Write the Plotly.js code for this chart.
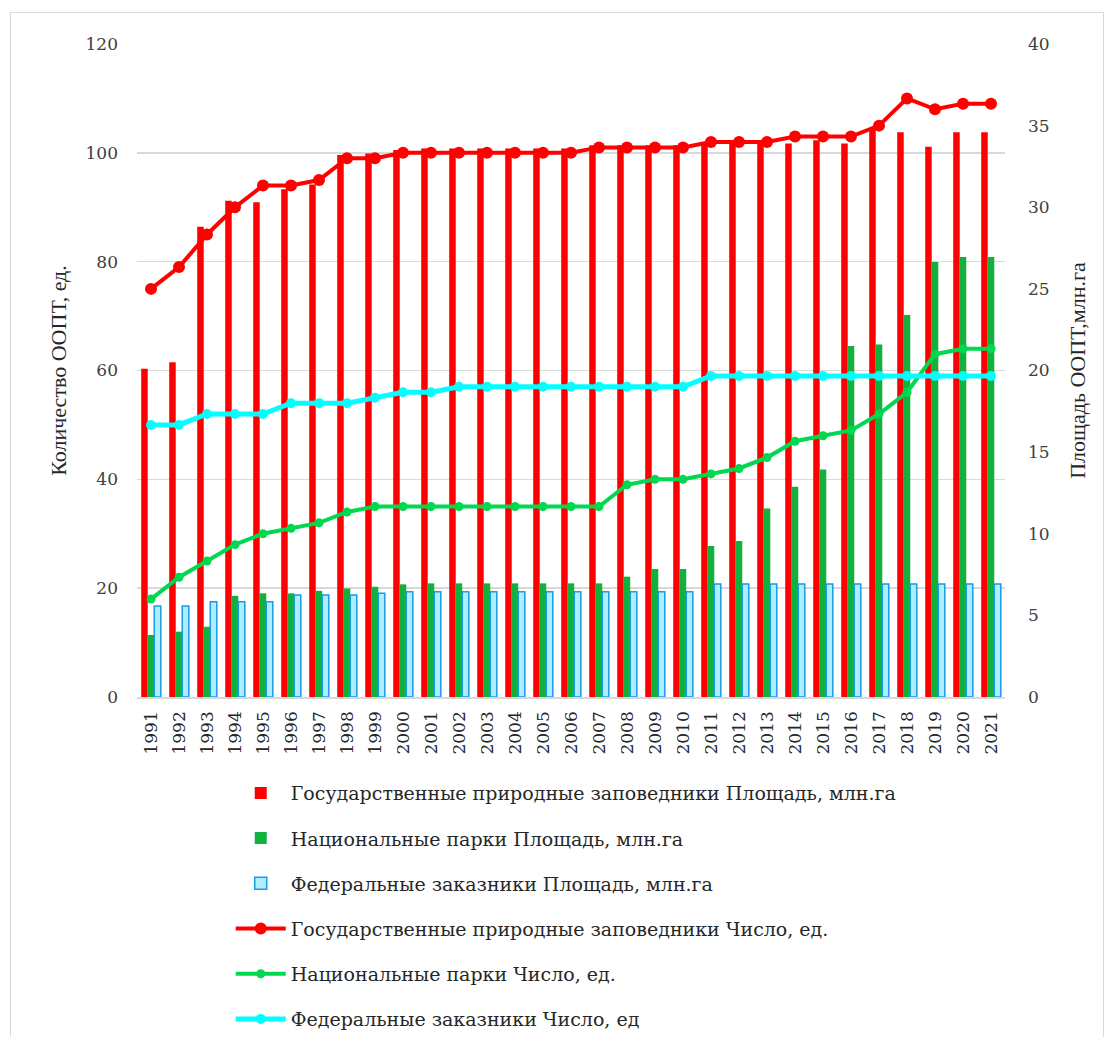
<!DOCTYPE html>
<html>
<head>
<meta charset="utf-8">
<script src="https://cdn.plot.ly/plotly-3.0.1.min.js"></script>
<style>
html,body{margin:0;padding:0;background:#fff;}
#wrap{position:relative;width:1111px;height:1037px;}
#chart{position:absolute;left:0;top:0;width:1111px;height:1037px;}
#frame{position:absolute;left:10px;top:12px;width:1092px;height:1030px;border:1px solid #d9d9d9;pointer-events:none;}
</style>
</head>
<body>
<div id="wrap"><div id="chart"></div><div id="frame"></div></div>
<script>
const years = ["1991","1992","1993","1994","1995","1996","1997","1998","1999","2000",
  "2001","2002","2003","2004","2005","2006","2007","2008","2009","2010",
  "2011","2012","2013","2014","2015","2016","2017","2018","2019","2020","2021"];

// Площадь, млн.га (right axis)
const zapArea = [20.1,20.5,28.8,30.4,30.3,31.1,31.4,33.2,33.3,33.5,
  33.6,33.6,33.6,33.6,33.6,33.6,33.8,33.8,33.8,33.8,
  33.9,33.9,33.9,33.9,34.1,33.9,34.8,34.6,33.7,34.6,34.6];
const npArea = [3.8,4.0,4.3,6.2,6.35,6.35,6.5,6.65,6.75,6.9,
  6.96,6.96,6.96,6.96,6.96,6.96,6.96,7.37,7.84,7.84,
  9.25,9.55,11.55,12.88,13.94,21.5,21.6,23.4,26.65,26.96,26.96];
const fzArea = [5.57,5.57,5.84,5.84,5.84,6.25,6.25,6.25,6.35,6.45,
  6.45,6.45,6.45,6.45,6.45,6.45,6.45,6.45,6.45,6.45,
  6.92,6.92,6.92,6.92,6.92,6.92,6.92,6.92,6.92,6.92,6.92];

// Число, ед. (left axis)
const zapCount = [75,79,85,90,94,94,95,99,99,100,
  100,100,100,100,100,100,101,101,101,101,
  102,102,102,103,103,103,105,110,108,109,109];
const npCount = [18,22,25,28,30,31,32,34,35,35,
  35,35,35,35,35,35,35,39,40,40,
  41,42,44,47,48,49,52,56,63,64,64];
const fzCount = [50,50,52,52,52,54,54,54,55,56,
  56,57,57,57,57,57,57,57,57,57,
  59,59,59,59,59,59,59,59,59,59,59];

const names = [
  "Государственные природные заповедники Площадь, млн.га",
  "Национальные парки Площадь, млн.га",
  "Федеральные заказники Площадь, млн.га",
  "Государственные природные заповедники Число, ед.",
  "Национальные парки Число, ед.",
  "Федеральные заказники Число, ед"
];

const serif = "Liberation Serif";
const wide = "DejaVu Serif";

const traces = [
  {type:"bar", x:years, y:zapArea, name:names[0], yaxis:"y", legendgroup:"a",
   marker:{color:"#ff0000"}},
  {type:"bar", x:years, y:npArea, name:names[1], yaxis:"y", legendgroup:"b",
   marker:{color:"#12b03c"}},
  {type:"bar", x:years, y:fzArea, name:names[2], yaxis:"y", legendgroup:"c",
   marker:{color:"#aeeeff", line:{color:"#1a9be6", width:1.5}}},
  {type:"scatter", mode:"lines+markers", x:years, y:zapCount, name:names[3], yaxis:"y2", legendgroup:"d",
   line:{color:"#ff0000", width:4}, marker:{color:"#ff0000", size:12}},
  {type:"scatter", mode:"lines+markers", x:years, y:npCount, name:names[4], yaxis:"y2", legendgroup:"e",
   line:{color:"#00d850", width:4}, marker:{color:"#00d850", size:9}},
  {type:"scatter", mode:"lines+markers", x:years, y:fzCount, name:names[5], yaxis:"y2", legendgroup:"f",
   line:{color:"#00ffff", width:5}, marker:{color:"#00ffff", size:10}}
];

const layout = {
  width:1111, height:1037,
  margin:{l:137, r:106, t:44, b:340, autoexpand:false},
  paper_bgcolor:"#ffffff", plot_bgcolor:"rgba(0,0,0,0)",
  font:{family:serif, color:"#262626", size:16},
  barmode:"group", bargap:0.3, bargroupgap:0,
  showlegend:true,
  legend:{x:0.108, xanchor:"left", y:-0.118, yanchor:"top", orientation:"v",
    traceorder:"grouped", tracegroupgap:17.5, itemwidth:50,
    font:{family:wide, size:19, color:"#262626"}, bgcolor:"rgba(0,0,0,0)"},
  xaxis:{type:"category", range:[-0.5,30.5], autorange:false, tickangle:-90,
    tickfont:{family:wide, size:17, color:"#262626"}, ticklabelstandoff:6,
    showline:true, linecolor:"#d9d9d9", linewidth:1.5, showgrid:false, ticks:"", ticklen:0, zeroline:false,
    automargin:false},
  yaxis:{side:"right", range:[0,40], dtick:5, tick0:0, showgrid:false, zeroline:false,
    tickfont:{family:wide, size:17, color:"#404040"}, ticks:"", ticklabelstandoff:22,
    title:{text:"Площадь ООПТ,млн.га", font:{family:serif, size:22, color:"#262626"}, standoff:20},
    automargin:false},
  yaxis2:{side:"left", overlaying:"y", range:[0,120], dtick:20, tick0:0, showgrid:true,
    gridcolor:"#d9d9d9", gridwidth:1.5, zeroline:false,
    tickfont:{family:wide, size:17, color:"#404040"}, ticks:"", ticklabelstandoff:18,
    title:{text:"Количество ООПТ, ед.", font:{family:serif, size:22, color:"#262626"}, standoff:12},
    automargin:false}
};

Plotly.newPlot("chart", traces, layout, {displayModeBar:false, staticPlot:true});
</script>
</body>
</html>
